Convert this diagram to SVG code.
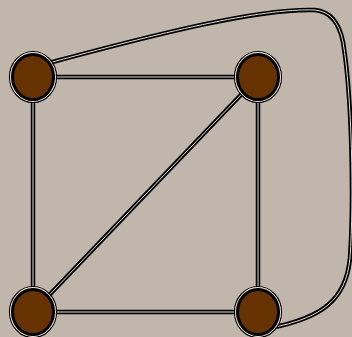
<svg xmlns="http://www.w3.org/2000/svg" width="352" height="337" viewBox="0 0 352 337">
<style>
.e1{fill:none;stroke:#000;stroke-width:4.5;stroke-linecap:round}
.e2{fill:none;stroke:#e6ddd0;stroke-width:1}
.r1{fill:none;stroke:#000;stroke-width:1.2}
.r2{fill:none;stroke:#ece4d8;stroke-width:1.2}
.body{fill:#663300;stroke:#000;stroke-width:3}
</style>
<defs>
<g id="nd">
<ellipse class="r1" cx="0" cy="0" rx="23.5" ry="25.5"/>
<ellipse class="r2" cx="0" cy="0" rx="22.3" ry="24.3"/>
<ellipse class="body" cx="0" cy="0" rx="20.5" ry="22.5"/>
</g>
</defs>
<rect width="352" height="337" fill="#c0b6ab"/>
<g id="connectors">
<g class="e1">
<line x1="33" y1="77" x2="258" y2="77"/>
<line x1="33" y1="77" x2="33" y2="312"/>
<line x1="258" y1="77" x2="258" y2="312"/>
<line x1="33" y1="312" x2="258" y2="312"/>
<line x1="258" y1="77" x2="33" y2="312"/>
<path d="M 45 64 C 160 33 260 8 315 10 Q 337 12 343 42 C 352 95 354 200 350 258 C 346 300 322 318 270 328"/>
</g>
<g class="e2">
<line x1="33" y1="77" x2="258" y2="77"/>
<line x1="33" y1="77" x2="33" y2="312"/>
<line x1="258" y1="77" x2="258" y2="312"/>
<line x1="33" y1="312" x2="258" y2="312"/>
<line x1="258" y1="77" x2="33" y2="312"/>
<path d="M 45 64 C 160 33 260 8 315 10 Q 337 12 343 42 C 352 95 354 200 350 258 C 346 300 322 318 270 328"/>
</g>
</g>
<g id="n1"><use href="#nd" x="33" y="77"/></g>
<g id="n2"><use href="#nd" x="258" y="77"/></g>
<g id="n3"><use href="#nd" x="33" y="312"/></g>
<g id="n4"><use href="#nd" x="258" y="312"/></g>
</svg>
